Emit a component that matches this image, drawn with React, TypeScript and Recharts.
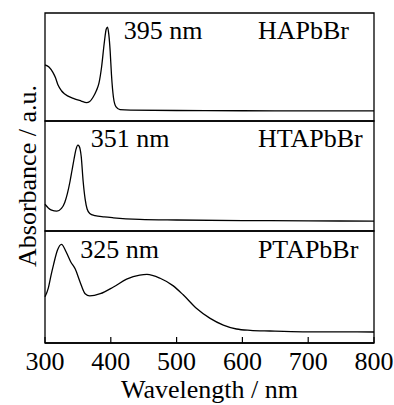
import React from "react";
import {
  LineChart,
  Line,
  XAxis,
  YAxis,
  ReferenceArea,
  ReferenceDot,
  Label,
} from "recharts";

const xTicks = [300, 400, 500, 600, 700, 800];

const haWl = [300, 306, 312, 316, 320, 325, 330, 343, 355, 363, 368, 373, 378, 382, 386, 390, 393, 395, 397, 399, 401, 404, 408, 414, 430, 500, 600, 700, 800];
const haAbs = [0.52, 0.5, 0.45, 0.4, 0.33, 0.28, 0.25, 0.21, 0.185, 0.17, 0.18, 0.22, 0.28, 0.35, 0.5, 0.72, 0.85, 0.87, 0.8, 0.65, 0.43, 0.22, 0.13, 0.105, 0.1, 0.097, 0.095, 0.094, 0.093];

const htaWl = [300, 305, 310, 318, 325, 330, 334, 338, 341, 344, 347, 350, 352, 355, 358, 361, 364, 368, 376, 390, 404, 444, 500, 600, 700, 800];
const htaAbs = [0.243, 0.21, 0.19, 0.18, 0.205, 0.26, 0.34, 0.45, 0.55, 0.65, 0.74, 0.78, 0.77, 0.68, 0.45, 0.29, 0.2, 0.16, 0.14, 0.128, 0.12, 0.106, 0.1, 0.095, 0.092, 0.09];

const ptaWl = [300, 305, 309, 313, 319, 325, 332, 339, 346, 353, 361, 368, 384, 404, 424, 444, 455, 475, 495, 510, 530, 551, 571, 591, 612, 642, 692, 750, 800];
const ptaAbs = [0.413, 0.49, 0.6, 0.7, 0.83, 0.88, 0.815, 0.726, 0.66, 0.55, 0.44, 0.42, 0.44, 0.5, 0.57, 0.607, 0.613, 0.578, 0.51, 0.43, 0.31, 0.22, 0.16, 0.125, 0.113, 0.107, 0.1, 0.099, 0.098];

const panels = [
  { name: "HAPbBr", peak: "395 nm", peakX: 418, wl: haWl, abs: haAbs },
  { name: "HTAPbBr", peak: "351 nm", peakX: 368, wl: htaWl, abs: htaAbs },
  { name: "PTAPbBr", peak: "325 nm", peakX: 352, wl: ptaWl, abs: ptaAbs },
];

const FONT = "'Liberation Serif', 'Times New Roman', serif";
const FS = 26;
const W = 386;

function Panel({ p, idx }: any) {
  const data = p.wl.map((w: number, i: number) => ({ wl: w, abs: p.abs[i] }));
  const last = idx === 2;
  const height = idx === 0 ? 113 : idx === 1 ? 110 : 166;
  return (
    <LineChart
      width={W}
      height={height}
      data={data}
      margin={{ top: idx === 0 ? 5 : 0, right: 20, left: 0, bottom: 0 }}
      style={{ fontFamily: FONT }}
    >
      <XAxis
        dataKey="wl"
        type="number"
        domain={[300, 800]}
        ticks={xTicks}
        hide={!last}
        height={54}
        axisLine={{ stroke: "#000", strokeWidth: 1.3 }}
        tickLine={{ stroke: "#000", strokeWidth: 1.2 }}
        tickSize={-6}
        tickMargin={15}
        tick={{ fill: "#000", fontSize: FS, fontFamily: FONT }}
      >
        {last && (
          <Label
            value="Wavelength / nm"
            position="insideBottom"
            offset={-1}
            style={{ fill: "#000", fontSize: FS, fontFamily: FONT }}
          />
        )}
      </XAxis>
      <YAxis
        type="number"
        domain={[0, 1]}
        width={37}
        tick={false}
        tickLine={false}
        axisLine={false}
        allowDataOverflow
      >
        {idx === 1 && (
          <Label
            value="Absorbance / a.u."
            angle={-90}
            position="center"
            style={{ fill: "#000", fontSize: FS, fontFamily: FONT, textAnchor: "middle" }}
          />
        )}
      </YAxis>
      <ReferenceArea
        x1={300}
        x2={800}
        y1={0}
        y2={1}
        fill="none"
        stroke="#000"
        strokeWidth={1.3}
        ifOverflow="visible"
      />
      <Line
        type="monotone"
        dataKey="abs"
        stroke="#000"
        strokeWidth={1.3}
        dot={false}
        isAnimationActive={false}
      />
      <ReferenceDot
        x={p.peakX}
        y={0.845}
        r={1}
        fill="none"
        stroke="none"
        label={{ value: p.peak, position: "right", offset: 0, fill: "#000", fontSize: FS, fontFamily: FONT }}
      />
      <ReferenceDot
        x={622}
        y={0.845}
        r={1}
        fill="none"
        stroke="none"
        label={{ value: p.name, position: "right", offset: 0, fill: "#000", fontSize: FS, fontFamily: FONT }}
      />
    </LineChart>
  );
}

export default function App() {
  return (
    <div
      style={{
        width: 394,
        height: 405,
        padding: "8px 0 0 8px",
        boxSizing: "border-box",
        background: "#fff",
      }}
    >
      <style>{"html{overflow:hidden}body{margin:0}.recharts-surface{overflow:visible}"}</style>
      {panels.map((p, i) => (
        <Panel key={p.name} p={p} idx={i} />
      ))}
    </div>
  );
}
